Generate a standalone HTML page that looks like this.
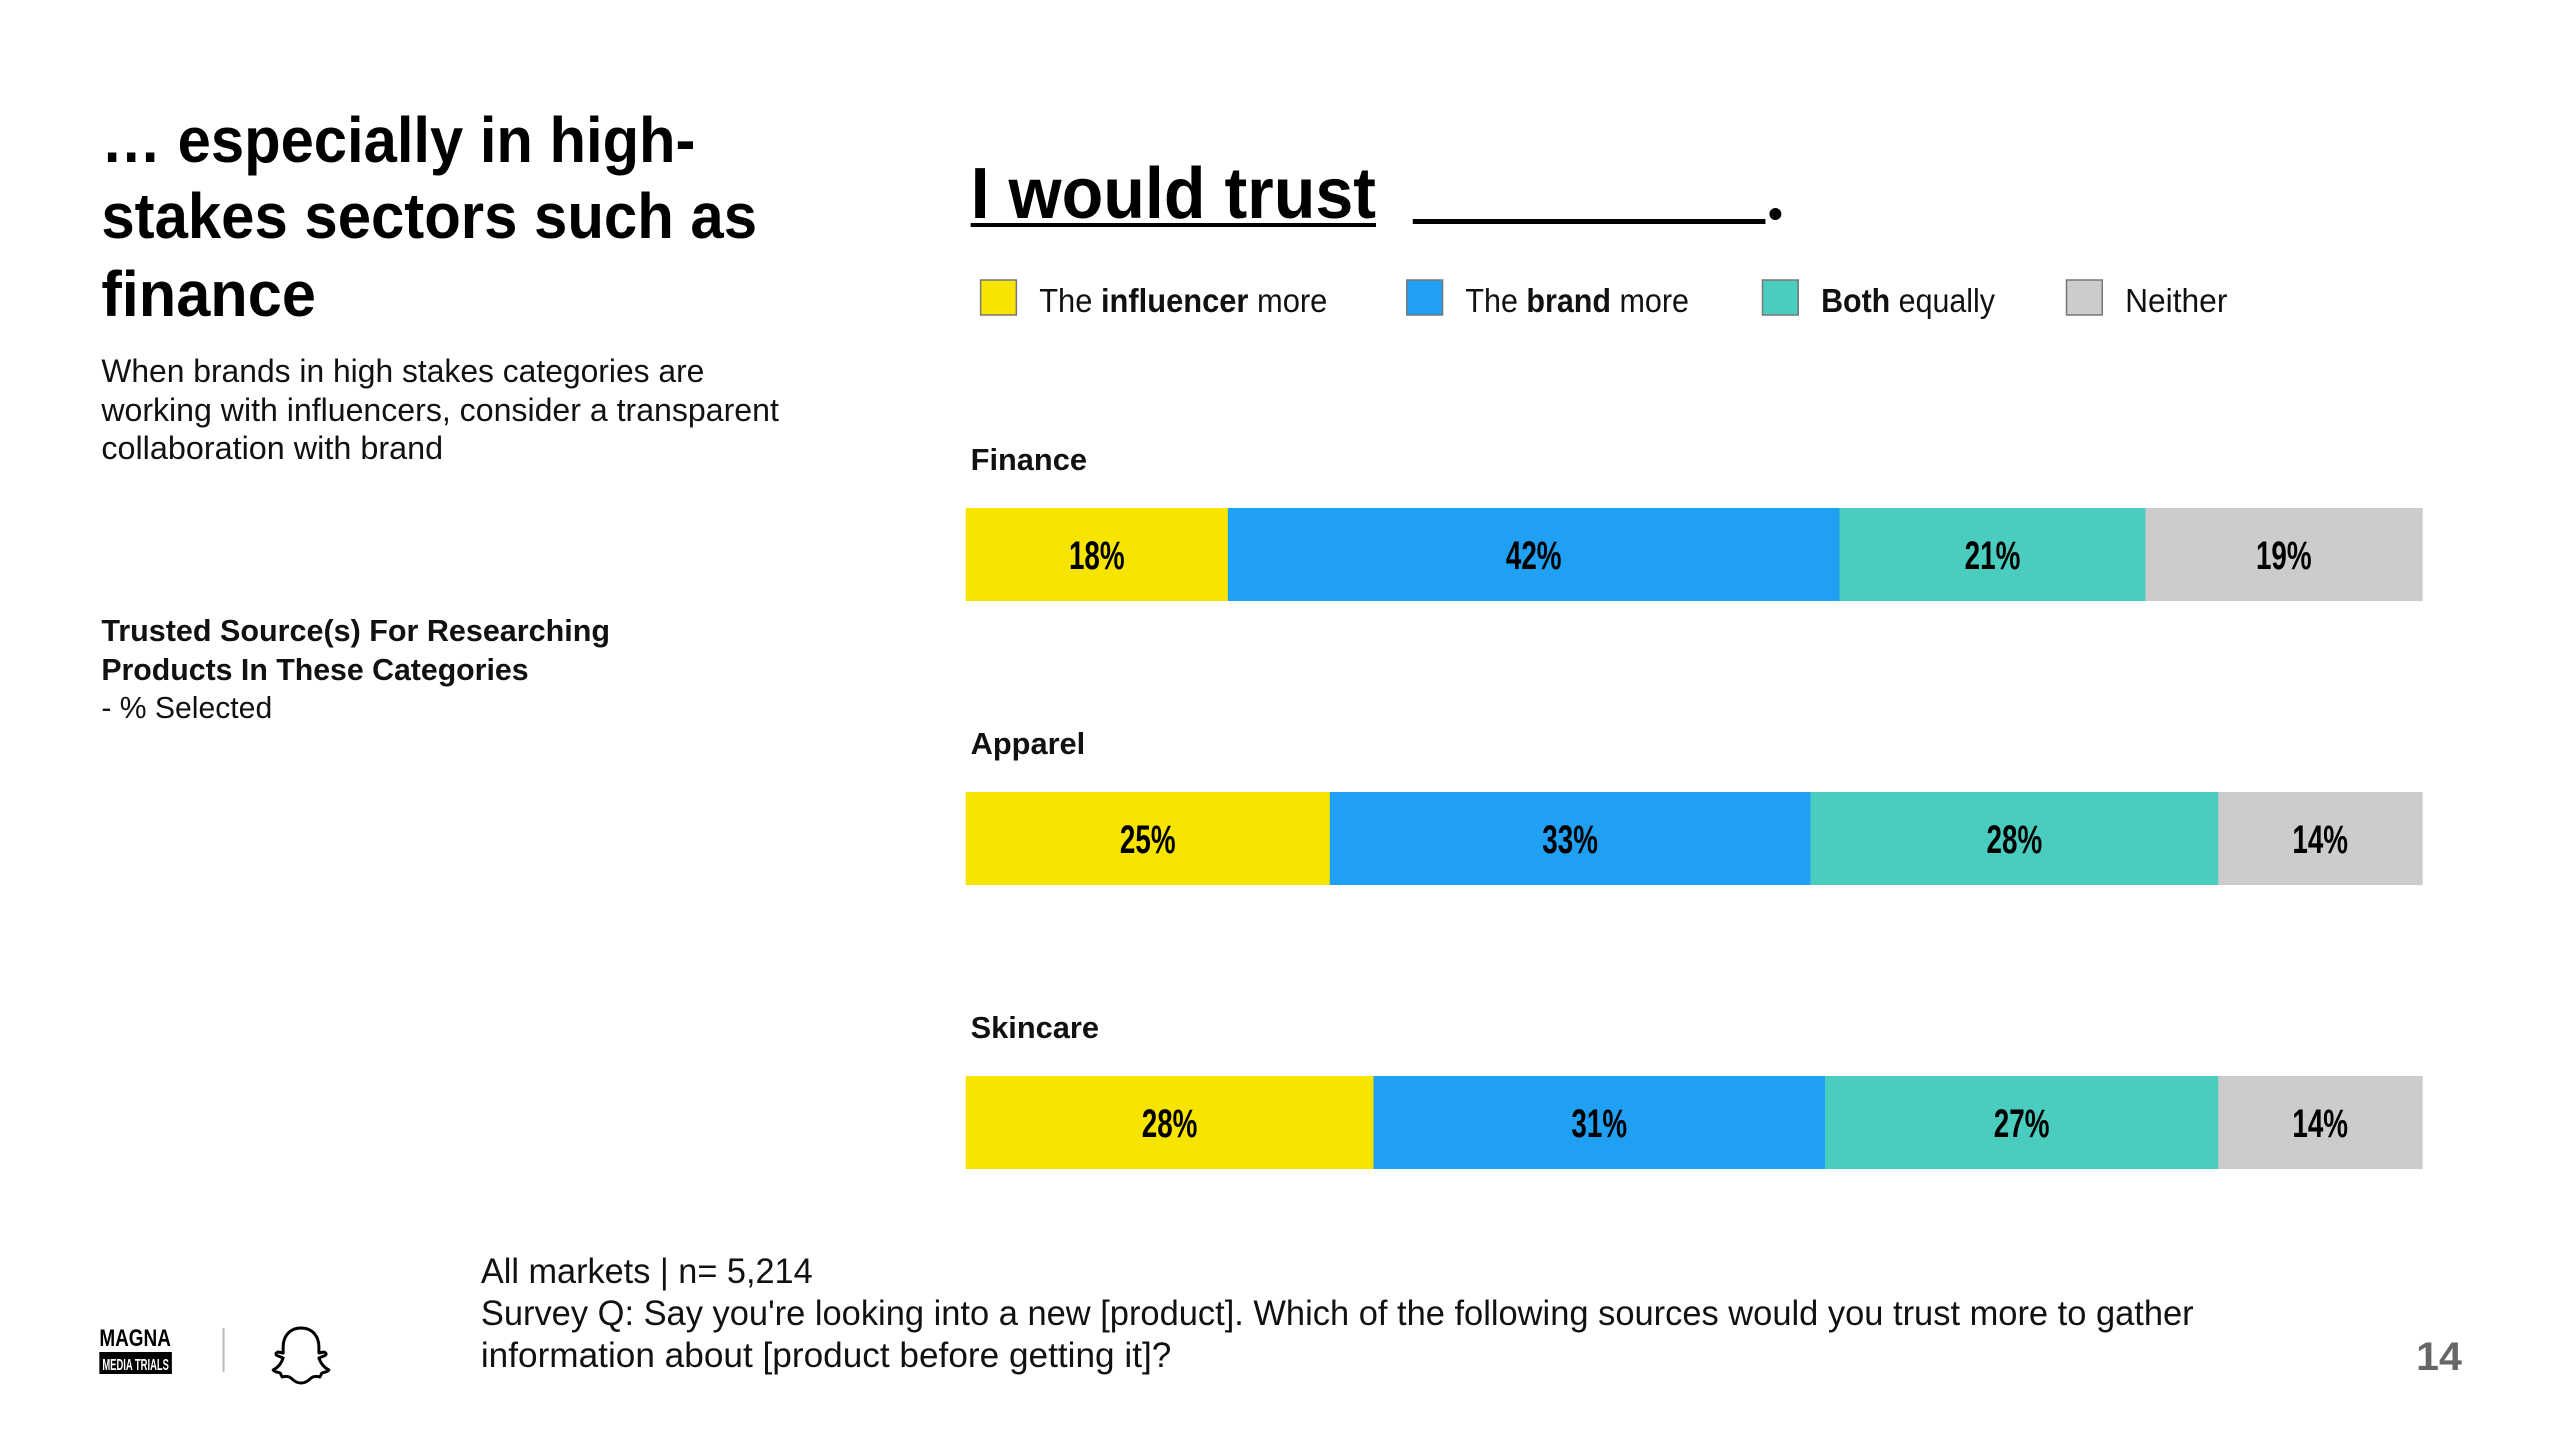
<!DOCTYPE html>
<html><head><meta charset="utf-8"><style>
html,body{margin:0;padding:0;background:#fff;}
svg{display:block;font-family:"Liberation Sans",sans-serif;}
</style></head><body>
<svg id="slide" width="2560" height="1440" viewBox="0 0 2560 1440">
<rect width="2560" height="1440" fill="#fff"/>
<g transform="scale(0.9935,1)">
<g font-weight="bold" font-size="64" fill="#000">
<text x="102" y="162" textLength="598" lengthAdjust="spacingAndGlyphs">… especially in high-</text>
<text x="102" y="238" textLength="660" lengthAdjust="spacingAndGlyphs">stakes sectors such as</text>
<text x="102" y="316" textLength="216" lengthAdjust="spacingAndGlyphs">finance</text>
</g>
<g font-size="32" fill="#111">
<text x="102" y="382" textLength="607" lengthAdjust="spacingAndGlyphs">When brands in high stakes categories are</text>
<text x="102" y="421" textLength="682" lengthAdjust="spacingAndGlyphs">working with influencers, consider a transparent</text>
<text x="102" y="459" textLength="344" lengthAdjust="spacingAndGlyphs">collaboration with brand</text>
</g>
<g font-size="31" fill="#111">
<text x="102" y="641" font-weight="bold" textLength="512" lengthAdjust="spacingAndGlyphs">Trusted  Source(s) For Researching</text>
<text x="102" y="680" font-weight="bold" textLength="430" lengthAdjust="spacingAndGlyphs">Products In These Categories</text>
<text x="102" y="718" textLength="172" lengthAdjust="spacingAndGlyphs">- % Selected</text>
</g>
<g>
<text x="977" y="218" font-size="72" font-weight="bold" textLength="408" lengthAdjust="spacingAndGlyphs">I would trust</text>
<rect x="977" y="223" width="408" height="4" fill="#000"/>
<rect x="1422" y="219" width="355" height="5" fill="#000"/>
<circle cx="1787" cy="214" r="6" fill="#000"/>
</g>
<g id="legend" font-size="33" fill="#111"></g>
<g id="bars"></g>
<g font-size="35" fill="#111">
<text x="484" y="1283" textLength="334" lengthAdjust="spacingAndGlyphs">All markets | n= 5,214</text>
<text x="484" y="1325" textLength="1724" lengthAdjust="spacingAndGlyphs">Survey Q: Say you're looking into a new [product]. Which of the following sources would you trust more to gather</text>
<text x="484" y="1367" textLength="695" lengthAdjust="spacingAndGlyphs">information about [product before getting it]?</text>
</g>
<text x="2432" y="1370" font-size="40" font-weight="bold" fill="#666" textLength="46" lengthAdjust="spacingAndGlyphs">14</text>
<g>
<text x="100" y="1346" font-size="24" font-weight="bold" fill="#000" textLength="72" lengthAdjust="spacingAndGlyphs">MAGNA</text>
<rect x="100" y="1352" width="73" height="22" fill="#000"/>
<text x="103" y="1370" font-size="16" font-weight="bold" fill="#fff" textLength="67" lengthAdjust="spacingAndGlyphs">MEDIA TRIALS</text>
</g>
<rect x="224" y="1328" width="2" height="44" fill="#bbb"/>
<path d="M303 1328 c-12 0 -18 9 -18 19 v6 l-5 -1 c-3 1 -3 3 0 4 l5 2 c-2 6 -6 10 -10 12 c1 2 4 2 7 3 l2 4 c3 -1 7 -1 10 2 c3 3 6 4 9 4 c3 0 6 -1 9 -4 c3 -3 7 -3 10 -2 l2 -4 c3 -1 6 -1 7 -3 c-4 -2 -8 -6 -10 -12 l5 -2 c3 -1 3 -3 0 -4 l-5 1 v-6 c0 -10 -6 -19 -18 -19 z" fill="none" stroke="#000" stroke-width="3" stroke-linejoin="round"/>
</g>
</svg>
<script>
var categories=["Finance","Apparel","Skincare"];
var seriesNames=["The influencer more","The brand more","Both equally","Neither"];
var influencerVals=[18,25,28];
var brandVals=[42,33,31];
var bothVals=[21,28,27];
var neitherVals=[19,14,14];
var NS="http://www.w3.org/2000/svg";
var colors=["#F7E400","#1FA0F2","#4ACDBF","#CCCCCC"];
var X0=972,X1=2438,BAR_H=93;
var rowTop=[508,792,1076];
function xScale(v,total){return (X1-X0)*v/total;}
function mk(tag,attrs){var e=document.createElementNS(NS,tag);for(var k in attrs)e.setAttribute(k,attrs[k]);return e;}
var bars=document.getElementById('bars');
var series=[influencerVals,brandVals,bothVals,neitherVals];
var keys=['influencer','brand','both','neither'];
categories.forEach(function(cat,i){
  var lab=mk('text',{x:977,y:rowTop[i]-38,'font-size':31,'font-weight':'bold',fill:'#111'});
  lab.textContent=cat;
  
  
  bars.appendChild(lab);
  var total=0;series.forEach(function(s){total+=s[i];});
  var x=X0;
  series.forEach(function(s,j){
    var w=xScale(s[i],total);
    var r=mk('rect',{x:x,y:rowTop[i],width:w+0.5,height:BAR_H,fill:colors[j]});
    
    
    bars.appendChild(r);
    var t=mk('text',{x:x+w/2,y:rowTop[i]+61,'font-size':40,'font-weight':'bold','text-anchor':'middle',fill:'#000',textLength:56,lengthAdjust:'spacingAndGlyphs'});
    t.textContent=s[i]+'%';
    
    
    bars.appendChild(t);
    x+=w;
  });
});
var legend=document.getElementById('legend');
var legSq=[987,1416,1774,2080];
var legParts=[["The ","influencer"," more"],["The ","brand"," more"],["","Both"," equally"],["Neither","",""]];
var legW=[290,225,175,103];
legParts.forEach(function(p,j){
  var g=mk('g',{});
  
  
  g.appendChild(mk('rect',{x:legSq[j],y:280,width:36,height:35,fill:colors[j],stroke:'#777','stroke-width':1.5}));
  var t=mk('text',{x:legSq[j]+59,y:312,textLength:legW[j],lengthAdjust:'spacingAndGlyphs'});
  p.forEach(function(s,k){if(!s)return;var ts=mk('tspan',k==1?{'font-weight':'bold'}:{});ts.textContent=s;t.appendChild(ts);});
  g.appendChild(t);
  legend.appendChild(g);
});
</script>
</body></html>
